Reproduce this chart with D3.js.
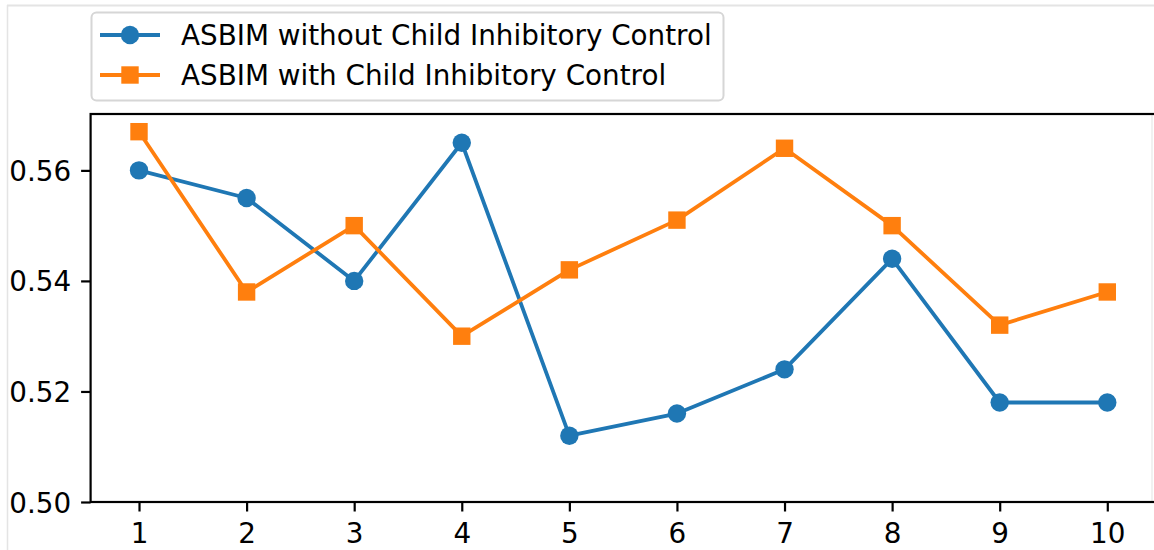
<!DOCTYPE html>
<html><head><meta charset="utf-8">
<script src="https://cdn.jsdelivr.net/npm/d3@7"></script>
<style>html,body{margin:0;padding:0;background:#fff;}svg{display:block;font-family:"DejaVu Sans",sans-serif;}</style>
</head><body>
<script>
const categories = [1,2,3,4,5,6,7,8,9,10];
const withoutControl = [0.560,0.555,0.540,0.565,0.512,0.516,0.524,0.544,0.518,0.518];
const withControl = [0.567,0.538,0.550,0.530,0.542,0.551,0.564,0.550,0.532,0.538];
const yTicks = [0.50,0.52,0.54,0.56];
const seriesNames = ["ASBIM without Child Inhibitory Control","ASBIM with Child Inhibitory Control"];
const colors = ["#1f77b4","#ff7f0e"];

const W=1154,H=550;
const svg=d3.select("body").append("svg").attr("width",W).attr("height",H);
// faint outer frame
svg.append("line").attr("x1",7).attr("x2",W).attr("y1",5.5).attr("y2",5.5).attr("stroke","#e4e4e4").attr("stroke-width",2);
svg.append("line").attr("x1",7.5).attr("x2",7.5).attr("y1",5).attr("y2",H).attr("stroke","#e4e4e4").attr("stroke-width",1.5);
svg.append("line").attr("x1",1152).attr("x2",1152).attr("y1",115).attr("y2",501).attr("stroke","#ececec").attr("stroke-width",1.5);

const L=90.6, R=1155.7, T=114, B=502;
const x=d3.scaleLinear().domain([0.55,10.45]).range([L,R]);
const y=d3.scaleLinear().domain([0.50,0.5702]).range([B,T]);

const fs=27.8;
// spines
const g=svg.append("g");
g.append("rect").attr("x",L).attr("y",T).attr("width",R-L).attr("height",B-T).attr("fill","none").attr("stroke","#000").attr("stroke-width",2.2);

const xAxis=d3.axisBottom(x).tickValues(categories).tickFormat(d3.format("d")).tickSize(9.5).tickPadding(12);
const ax=svg.append("g").attr("transform",`translate(0,${B})`).call(xAxis);
const yAxis=d3.axisLeft(y).tickValues(yTicks).tickFormat(d3.format(".2f")).tickSize(9.5).tickPadding(10);
const ay=svg.append("g").attr("transform",`translate(${L},0)`).call(yAxis);
[ax,ay].forEach(a=>{a.select(".domain").remove();a.selectAll(".tick line").attr("stroke","#000").attr("stroke-width",2.2);
 a.selectAll("text").attr("font-size",fs).attr("font-family","DejaVu Sans").attr("fill","#000");});
ay.selectAll("text").attr("dy","0.36em");

const line=d3.line().x((d,i)=>x(categories[i])).y(d=>y(d));
const data=[withoutControl,withControl];
data.forEach((vals,si)=>{
  svg.append("path").datum(vals).attr("d",line).attr("fill","none").attr("stroke",colors[si]).attr("stroke-width",3.8).attr("stroke-linejoin","round");
  if(si===0){
    svg.selectAll(null).data(vals).enter().append("circle").attr("cx",(d,i)=>x(categories[i])).attr("cy",d=>y(d)).attr("r",9.2).attr("fill",colors[si]);
  } else {
    svg.selectAll(null).data(vals).enter().append("rect").attr("x",(d,i)=>x(categories[i])-8.7).attr("y",d=>y(d)-8.7).attr("width",17.4).attr("height",17.4).attr("fill",colors[si]);
  }
});

// legend
const lg=svg.append("g");
lg.append("rect").attr("x",91.5).attr("y",12.5).attr("width",632).attr("height",88).attr("rx",5).attr("fill","#fff").attr("fill-opacity",0.8).attr("stroke","#d6d6d6").attr("stroke-width",2);
seriesNames.forEach((n,i)=>{
  const cy=35+i*40;
  lg.append("line").attr("x1",100).attr("x2",160).attr("y1",cy).attr("y2",cy).attr("stroke",colors[i]).attr("stroke-width",3.8);
  if(i===0) lg.append("circle").attr("cx",130).attr("cy",cy).attr("r",9.2).attr("fill",colors[i]);
  else lg.append("rect").attr("x",121.3).attr("y",cy-8.7).attr("width",17.4).attr("height",17.4).attr("fill",colors[i]);
  lg.append("text").attr("x",181).attr("y",cy).attr("dy","0.36em").attr("font-size",fs).attr("fill","#000").text(n);
});
</script>
</body></html>
